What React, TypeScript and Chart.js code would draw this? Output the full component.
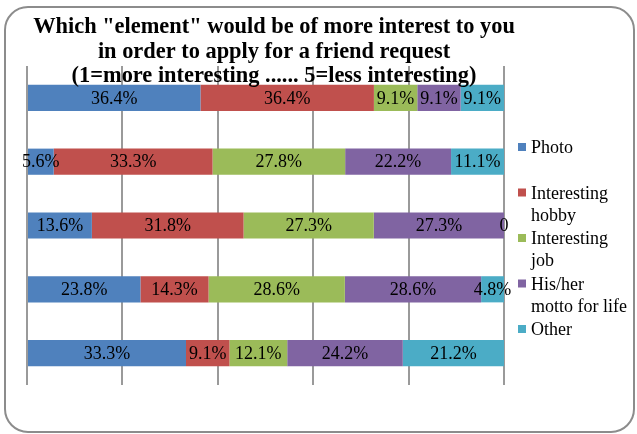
import React, { useEffect, useRef } from "react";
import { Chart, registerables } from "chart.js";

Chart.register(...registerables);

const categories = ["1", "2", "3", "4", "5"];
const seriesNames = ["Photo", "Interesting hobby", "Interesting job", "His/her motto for life", "Other"];
const legendLines = [["Photo"], ["Interesting", "hobby"], ["Interesting", "job"], ["His/her", "motto for life"], ["Other"]];
const seriesColors = ["#4F81BD", "#C0504D", "#9BBB59", "#8064A2", "#4BACC6"];

const photo = [36.4, 5.6, 13.6, 23.8, 33.3];
const hobby = [36.4, 33.3, 31.8, 14.3, 9.1];
const job = [9.1, 27.8, 27.3, 28.6, 12.1];
const motto = [9.1, 22.2, 27.3, 28.6, 24.2];
const other = [9.1, 11.1, 0, 4.8, 21.2];

const titleLines = [
  'Which "element" would be of more interest to you',
  "in order to apply for a friend request",
  "(1=more interesting ...... 5=less interesting)",
];

const xTicks = [0, 20, 40, 60, 80, 100];

const FONT = '"Liberation Serif", "Times New Roman", serif';

export default function App() {
  const ref = useRef<HTMLCanvasElement | null>(null);

  useEffect(() => {
    const canvas = ref.current;
    if (!canvas) return;
    const raw = [photo, hobby, job, motto, other];
    const sums = categories.map((_, i) => raw.reduce((s, arr) => s + arr[i], 0));

    const labelPlugin = {
      id: "segLabels",
      afterDatasetsDraw(chart: any) {
        const ctx = chart.ctx;
        ctx.save();
        ctx.font = `18px ${FONT}`;
        ctx.fillStyle = "#000";
        ctx.textAlign = "center";
        ctx.textBaseline = "middle";
        chart.data.datasets.forEach((ds: any, di: number) => {
          const meta = chart.getDatasetMeta(di);
          meta.data.forEach((el: any, i: number) => {
            const v = raw[di][i];
            const txt = v === 0 ? "0" : v.toFixed(1) + "%";
            const cx = (el.x + el.base) / 2;
            ctx.fillText(txt, cx, el.y + 1);
          });
        });
        ctx.restore();
      },
    };

    const decoPlugin = {
      id: "deco",
      afterDraw(chart: any) {
        const ctx = chart.ctx;
        ctx.save();
        // title
        ctx.font = `bold 22.4px ${FONT}`;
        ctx.fillStyle = "#000";
        ctx.textAlign = "center";
        ctx.textBaseline = "alphabetic";
        titleLines.forEach((t, i) => ctx.fillText(t, 274, 33 + i * 24.5));
        // legend
        ctx.font = `18px ${FONT}`;
        ctx.textAlign = "left";
        legendLines.forEach((lines, i) => {
          const cy = 147 + i * 45.5;
          ctx.fillStyle = seriesColors[i];
          ctx.fillRect(518, cy - 4, 8, 8);
          ctx.fillStyle = "#000";
          lines.forEach((ln, j) => ctx.fillText(ln, 531, cy + 6 + j * 22));
        });
        ctx.restore();
      },
    };

    const chart = new Chart(canvas, {
      type: "bar",
      data: {
        labels: categories,
        datasets: raw.map((arr, di) => ({
          label: seriesNames[di],
          data: arr.map((v, i) => (v / sums[i]) * 100),
          backgroundColor: seriesColors[di],
          borderWidth: 0,
          categoryPercentage: 1,
          barPercentage: 0.41,
        })),
      },
      options: {
        indexAxis: "y",
        animation: false,
        responsive: false,
        layout: { padding: { left: 27, right: 133, top: 66, bottom: 49 } },
        plugins: { legend: { display: false }, title: { display: false }, tooltip: { enabled: false } },
        scales: {
          x: {
            stacked: true,
            min: 0,
            max: 100,
            afterBuildTicks: (s: any) => {
              s.ticks = xTicks.map((v) => ({ value: v }));
            },
            ticks: { display: false },
            grid: { color: "#9a9a9a", lineWidth: 2, drawTicks: false },
            border: { display: false },
          },
          y: {
            stacked: true,
            display: false,
          },
        },
      },
      plugins: [labelPlugin, decoPlugin],
    } as any);
    return () => chart.destroy();
  }, []);

  return (
    <div style={{ position: "fixed", left: 0, top: 0, width: 637, height: 434, background: "#fff" }}>
      <canvas ref={ref} width={637} height={434} style={{ display: "block", position: "absolute", left: 0, top: 0 }} />
      <div
        style={{
          position: "absolute",
          left: 4,
          top: 6,
          width: 631,
          height: 427,
          boxSizing: "border-box",
          border: "2px solid #8c8c8c",
          borderRadius: 24,
          pointerEvents: "none",
        }}
      />
    </div>
  );
}
